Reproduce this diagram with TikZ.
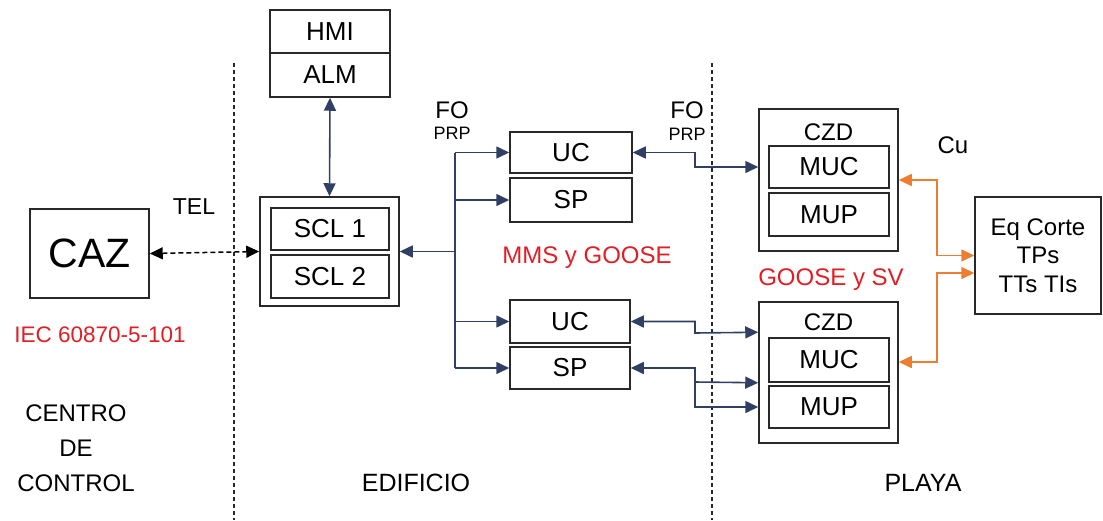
\documentclass[tikz,border=0pt]{standalone}
\usepackage{fontspec}
\setmainfont{Liberation Sans}
\usetikzlibrary{arrows.meta,calc}
\definecolor{navy}{RGB}{47,64,100}
\definecolor{ora}{RGB}{237,125,49}
\definecolor{redt}{RGB}{225,30,36}
\definecolor{boxc}{RGB}{40,40,40}
\begin{document}
\begin{tikzpicture}[x=1pt,y=-1pt,
  box/.style={draw=boxc,line width=1.5pt,inner sep=0pt,font=\fontsize{26}{30}\selectfont},
  lbl/.style={inner sep=0pt,font=\fontsize{24}{28}\selectfont},
  small/.style={inner sep=0pt,font=\fontsize{18}{21}\selectfont},
  redlbl/.style={lbl,text=redt},
  tip/.tip={Triangle[length=13pt,width=12pt]},
  nv/.style={draw=navy,line width=1.6pt},
  nvarr/.style={nv,-tip},
  nvboth/.style={nv,tip-tip},
  orboth/.style={draw=ora,line width=1.6pt,tip-tip},
  sep/.style={draw=boxc,line width=1.1pt,dash pattern=on 4pt off 3pt}]
\useasboundingbox (0,0) rectangle (1103,520);

% separators
\draw[sep] (234,63) -- (234,520);
\draw[sep] (712,63) -- (712,520);

% centro de control
\node[box,minimum width=119pt,minimum height=89pt,font=\fontsize{41}{46}\selectfont] (caz) at (89.5,253.5) {CAZ};
\node[lbl,font=\fontsize{23}{27}\selectfont] (tel) at (194,207) {TEL};
\node[redlbl,font=\fontsize{22.5}{27}\selectfont] (iec) at (100,335) {IEC 60870-5-101};
\node[lbl,align=center,font=\fontsize{24}{35}\selectfont] (cc) at (76,448) {CENTRO\\DE\\CONTROL};

% edificio
\node[box,minimum width=120pt,minimum height=43pt] (hmi) at (330,31.5) {HMI};
\node[box,minimum width=120pt,minimum height=44pt] (alm) at (330,75) {ALM};
\node[box,minimum width=139pt,minimum height=109pt] (scl) at (329.5,251.5) {};
\node[box,minimum width=118pt,minimum height=42pt] (scl1) at (330,229) {SCL 1};
\node[box,minimum width=118pt,minimum height=43pt] (scl2) at (330,276.5) {SCL 2};

\node[box,minimum width=122pt,minimum height=41pt] (uc1) at (571,152.5) {UC};
\node[box,minimum width=122pt,minimum height=44pt] (sp1) at (571,200) {SP};
\node[box,minimum width=120pt,minimum height=43pt] (uc2) at (570,321.5) {UC};
\node[box,minimum width=120pt,minimum height=42pt] (sp2) at (570,368) {SP};

\node[lbl] (fo1) at (452,110) {FO};
\node[small] (prp1) at (452,133) {PRP};
\node[lbl] (fo2) at (687,110) {FO};
\node[small] (prp2) at (687,134) {PRP};
\node[redlbl] (mms) at (587,258) {MMS y GOOSE};
\node[lbl,font=\fontsize{25}{29}\selectfont] (edif) at (416,483) {EDIFICIO};

% playa
\node[box,minimum width=139pt,minimum height=142pt] (czd1) at (828.5,180) {};
\node[lbl] (czd1l) at (828.5,132) {CZD};
\node[box,minimum width=120pt,minimum height=42pt] (muc1) at (829,167) {MUC};
\node[box,minimum width=120pt,minimum height=43pt] (mup1) at (829,214.5) {MUP};

\node[box,minimum width=139pt,minimum height=141pt] (czd2) at (828.5,372.5) {};
\node[lbl] (czd2l) at (828.5,322) {CZD};
\node[box,minimum width=120pt,minimum height=44pt] (muc2) at (829,360) {MUC};
\node[box,minimum width=120pt,minimum height=42pt] (mup2) at (829,407) {MUP};

\node[box,minimum width=126pt,minimum height=117pt,align=center,font=\fontsize{24}{28.5}\selectfont] (eq) at (1038,255.5) {Eq Corte\\TPs\\TTs TIs};
\node[lbl] (cu) at (953,145) {Cu};
\node[redlbl] (gsv) at (831,280) {GOOSE y SV};
\node[lbl,font=\fontsize{25}{29}\selectfont] (playa) at (923,483) {PLAYA};

% connectors
\draw[nvboth] (alm.south) -- (scl.north);
\draw[line width=1.5pt,dash pattern=on 5pt off 3pt,tip-tip] (caz.east) -- (scl.west);

\coordinate (b1) at (455,152.5);
\coordinate (b5) at (455,368);
\draw[nv] (b1) -- (b5);
\draw[nvarr] (b1) -- (uc1.west);
\draw[nvarr] (sp1.west -| b1) -- (sp1.west);
\draw[nvarr] (scl.east -| b1) -- (scl.east);
\draw[nvarr] (uc2.west -| b1) -- (uc2.west);
\draw[nvarr] (b5) -- (sp2.west);

\draw[nvboth] (uc1.east) -| (695,167) -- (czd1.west |- muc1.west);
\coordinate (c2a) at ($(czd2.north west)+(0,31)$);
\draw[nvboth] (uc2.east) -| (695,333) -- (c2a);
\draw[nvboth] (sp2.east) -| (695,407) -- (czd2.west |- mup2.west);
\draw[nvarr] (695,382) -- (czd2.west |- muc2.south);

\draw[orboth] (czd1.east) -| (937,255.5) -- (eq.west);
\coordinate (eq2) at ($(eq.west)+(0,17.5)$);
\coordinate (cz2e) at ($(czd2.east)+(0,-10.5)$);
\draw[orboth] (eq2) -| (937,362) -- (cz2e);
\end{tikzpicture}
\end{document}
